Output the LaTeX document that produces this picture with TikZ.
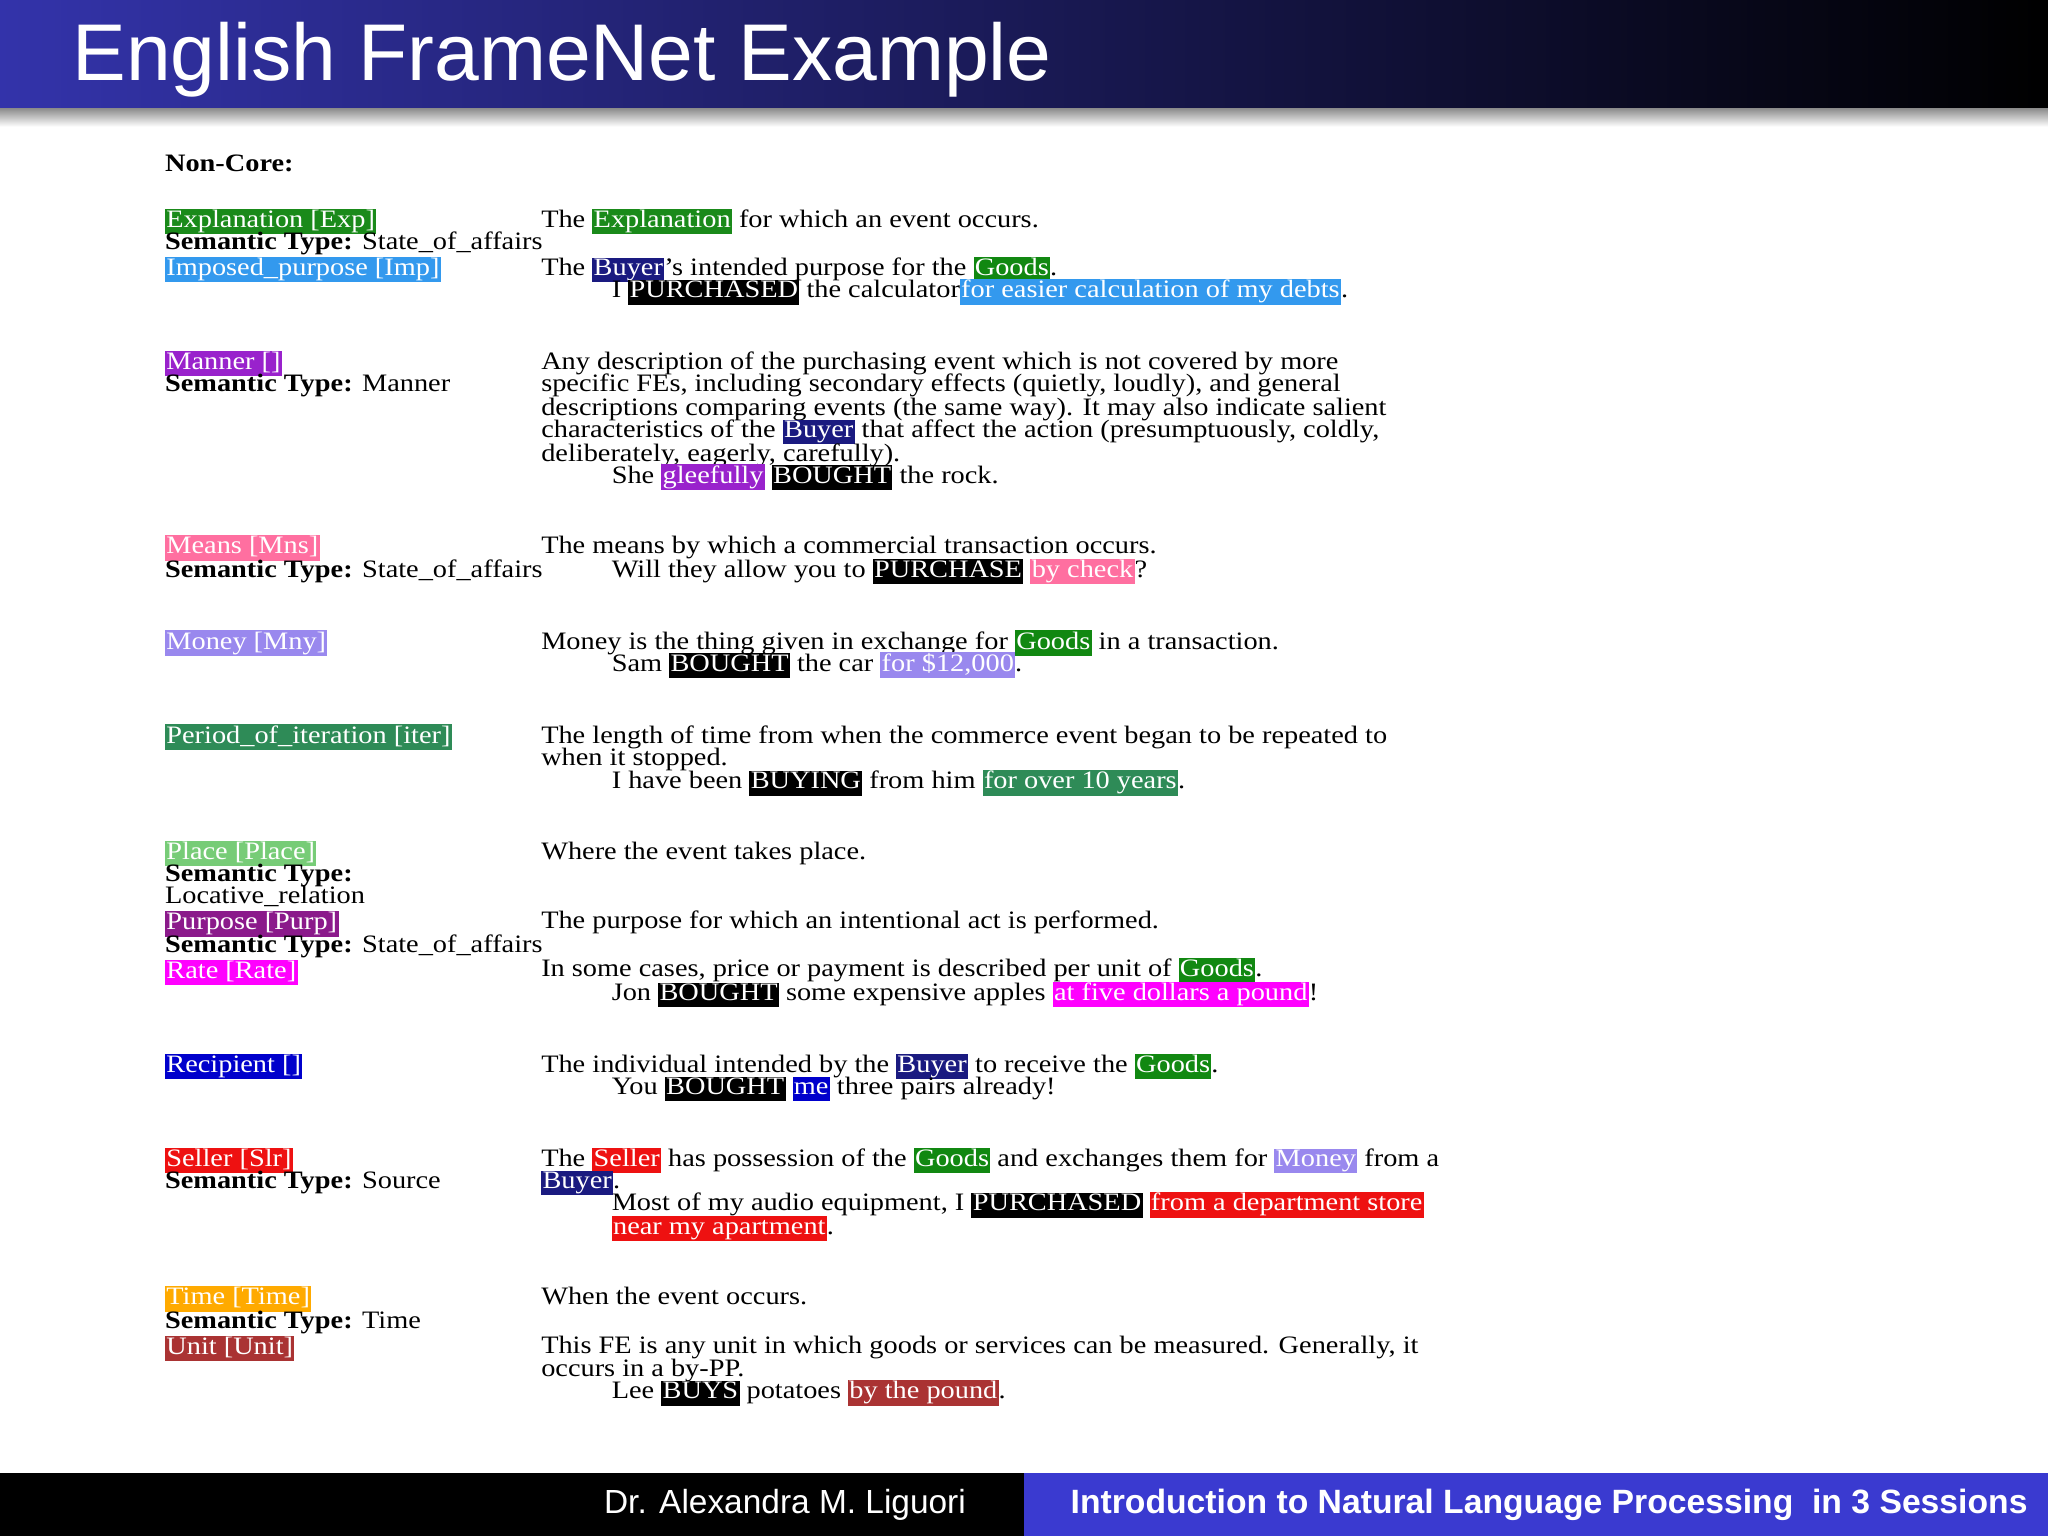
\documentclass[tikz,border=0pt]{standalone}
\usepackage{fontspec}
\setmainfont[FakeStretch=1.13]{Liberation Serif}
\newfontfamily\sansf{Liberation Sans}
\usepackage{xcolor}
\definecolor{cExp}{HTML}{1A8A1A}
\definecolor{cImp}{HTML}{3399EE}
\definecolor{cBuyer}{HTML}{1A1A80}
\definecolor{cGoods}{HTML}{118811}
\definecolor{cManner}{HTML}{9922CC}
\definecolor{cMeans}{HTML}{FF6FA0}
\definecolor{cMoney}{HTML}{9988EE}
\definecolor{cIter}{HTML}{2E8B57}
\definecolor{cPlace}{HTML}{77CC77}
\definecolor{cPurp}{HTML}{8B1A8B}
\definecolor{cRate}{HTML}{FF00FF}
\definecolor{cRecip}{HTML}{0000CC}
\definecolor{cSeller}{HTML}{EE1111}
\definecolor{cTime}{HTML}{FFAA00}
\definecolor{cUnit}{HTML}{AA3333}
\definecolor{titleblue}{HTML}{3333AA}
\definecolor{footblue}{HTML}{3A3AD0}
\newcommand{\hl}[2]{{\setlength{\fboxsep}{0.5pt}\colorbox{#1}{\textcolor{white}{\vphantom{Ag}#2}}}}
\newcommand{\st}{\textbf{Semantic Type:}}
\begin{document}
\begin{tikzpicture}[x=0.5pt,y=-0.5pt,
  L/.style={anchor=base west,inner sep=0pt,font=\fontsize{9.6}{10}\selectfont}]
\useasboundingbox (0,0) rectangle (1568,1176);
\fill[white] (0,0) rectangle (1568,1176);
\shade[left color=titleblue,right color=black] (0,0) rectangle (1568,83);
\shade[top color=black!45,bottom color=white] (0,83) rectangle (1568,97);
\node[anchor=base west,inner sep=0pt,text=white,font=\sansf\fontsize{30.8}{32}\selectfont] (title) at (55,62) {English FrameNet Example};
\fill[black] (0,1128) rectangle (784,1176);
\fill[footblue] (784,1128) rectangle (1568,1176);
\node[text=white,font=\sansf\fontsize{12.8}{13}\selectfont] (fl) at (601,1152) {Dr. Alexandra M. Liguori};
\node[text=white,font=\sansf\bfseries\fontsize{12.9}{13}\selectfont] (fr) at (1186,1152) {Introduction to Natural Language Processing \ in 3 Sessions};

\node[L] (l0) at (126,131) {\textbf{Non-Core:}};
\node[L] (l1) at (126,174) {\hl{cExp}{Explanation [Exp]}};
\node[L] (l2) at (126,191) {\st{} State\_of\_affairs};
\node[L] (l3) at (126,211) {\hl{cImp}{Imposed\_purpose [Imp]}};
\node[L] (r1) at (414,174) {The \hl{cExp}{Explanation} for which an event occurs.};
\node[L] (r2) at (414,211) {The \hl{cBuyer}{Buyer}'s intended purpose for the \hl{cGoods}{Goods}.};
\node[L] (r3) at (468,228) {I \hl{black}{PURCHASED} the calculator\hl{cImp}{for easier calculation of my debts}.};

\node[L] (l4) at (126,283) {\hl{cManner}{Manner []}};
\node[L] (l5) at (126,300) {\st{} Manner};
\node[L] (r4) at (414,283) {Any description of the purchasing event which is not covered by more};
\node[L] (r5) at (414,300) {specific FEs, including secondary effects (quietly, loudly), and general};
\node[L] (r6) at (414,318) {descriptions comparing events (the same way). It may also indicate salient};
\node[L] (r7) at (414,335) {characteristics of the \hl{cBuyer}{Buyer} that affect the action (presumptuously, coldly,};
\node[L] (r8) at (414,353) {deliberately, eagerly, carefully).};
\node[L] (r9) at (468,370) {She \hl{cManner}{gleefully} \hl{black}{BOUGHT} the rock.};

\node[L] (l6) at (126,424) {\hl{cMeans}{Means [Mns]}};
\node[L] (l7) at (126,442) {\st{} State\_of\_affairs};
\node[L] (r10) at (414,424) {The means by which a commercial transaction occurs.};
\node[L] (r11) at (468,442) {Will they allow you to \hl{black}{PURCHASE} \hl{cMeans}{by check}?};

\node[L] (l8) at (126,497) {\hl{cMoney}{Money [Mny]}};
\node[L] (r12) at (414,497) {Money is the thing given in exchange for \hl{cGoods}{Goods} in a transaction.};
\node[L] (r13) at (468,514) {Sam \hl{black}{BOUGHT} the car \hl{cMoney}{for \$12,000}.};

\node[L] (l9) at (126,569) {\hl{cIter}{Period\_of\_iteration [iter]}};
\node[L] (r14) at (414,569) {The length of time from when the commerce event began to be repeated to};
\node[L] (r15) at (414,586) {when it stopped.};
\node[L] (r16) at (468,604) {I have been \hl{black}{BUYING} from him \hl{cIter}{for over 10 years}.};

\node[L] (l10) at (126,658) {\hl{cPlace}{Place [Place]}};
\node[L] (l11) at (126,675) {\st};
\node[L] (l12) at (126,692) {Locative\_relation};
\node[L] (l13) at (126,712) {\hl{cPurp}{Purpose [Purp]}};
\node[L] (l14) at (126,729) {\st{} State\_of\_affairs};
\node[L] (l15) at (126,749) {\hl{cRate}{Rate [Rate]}};
\node[L] (r17) at (414,658) {Where the event takes place.};
\node[L] (r18) at (414,711) {The purpose for which an intentional act is performed.};
\node[L] (r19) at (414,748) {In some cases, price or payment is described per unit of \hl{cGoods}{Goods}.};
\node[L] (r20) at (468,766) {Jon \hl{black}{BOUGHT} some expensive apples \hl{cRate}{at five dollars a pound}!};

\node[L] (l16) at (126,821) {\hl{cRecip}{Recipient []}};
\node[L] (r21) at (414,821) {The individual intended by the \hl{cBuyer}{Buyer} to receive the \hl{cGoods}{Goods}.};
\node[L] (r22) at (468,838) {You \hl{black}{BOUGHT} \hl{cRecip}{me} three pairs already!};

\node[L] (l17) at (126,893) {\hl{cSeller}{Seller [Slr]}};
\node[L] (l18) at (126,910) {\st{} Source};
\node[L] (r23) at (414,893) {The \hl{cSeller}{Seller} has possession of the \hl{cGoods}{Goods} and exchanges them for \hl{cMoney}{Money} from a};
\node[L] (r24) at (414,910) {\hl{cBuyer}{Buyer}.};
\node[L] (r25) at (468,927) {Most of my audio equipment, I \hl{black}{PURCHASED} \hl{cSeller}{from a department store}};
\node[L] (r26) at (468,945) {\hl{cSeller}{near my apartment}.};

\node[L] (l19) at (126,999) {\hl{cTime}{Time [Time]}};
\node[L] (l20) at (126,1017) {\st{} Time};
\node[L] (l21) at (126,1037) {\hl{cUnit}{Unit [Unit]}};
\node[L] (r27) at (414,999) {When the event occurs.};
\node[L] (r28) at (414,1036) {This FE is any unit in which goods or services can be measured. Generally, it};
\node[L] (r29) at (414,1054) {occurs in a by-PP.};
\node[L] (r30) at (468,1071) {Lee \hl{black}{BUYS} potatoes \hl{cUnit}{by the pound}.};
\end{tikzpicture}
\end{document}
